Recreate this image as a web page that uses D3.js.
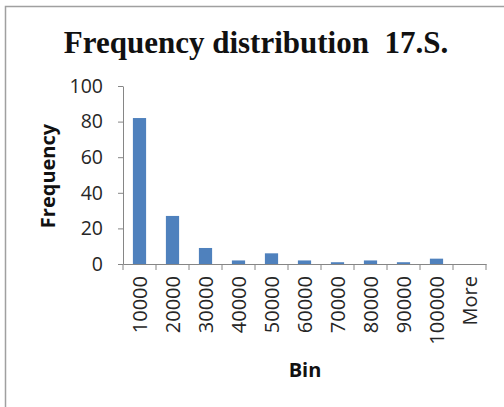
<!DOCTYPE html>
<html><head><meta charset="utf-8">
<script src="https://cdn.jsdelivr.net/npm/d3@7"></script>
<style>body{margin:0;background:#fff}svg{display:block}</style>
</head><body>
<svg id="c" width="504" height="407"></svg>
<script>
const bins = ["10000","20000","30000","40000","50000","60000","70000","80000","90000","100000","More"];
const frequency = [82, 27, 9, 2, 6, 2, 1, 2, 1, 3, 0];
const yTicks = [0, 20, 40, 60, 80, 100];
const title = "Frequency distribution  17.S.";
const xTitle = "Bin", yTitle = "Frequency";

const svg = d3.select("#c");
const m = {left:123, right:486, top:86, bottom:264};
// frame
svg.append("path").attr("d","M5.5,407V6.5H504").attr("fill","none").attr("stroke","#a0a0a0").attr("stroke-width",1.5);

const x = d3.scaleBand().domain(bins).range([m.left, m.right]).paddingInner(0.6).paddingOuter(0.3);
const y = d3.scaleLinear().domain([0,100]).range([m.bottom, m.top]);

svg.append("text").attr("x",256).attr("y",53).attr("text-anchor","middle")
  .style("white-space","pre")
  .attr("font-family","Liberation Serif, Times New Roman, serif").attr("font-weight","bold")
  .attr("font-size",31).attr("fill","#111").text(title);

// bars
svg.append("g").selectAll("rect").data(bins).join("rect")
  .attr("x", d=>x(d)).attr("width", x.bandwidth())
  .attr("y", (d,i)=>y(frequency[i])).attr("height",(d,i)=>y(0)-y(frequency[i]))
  .attr("fill","#4F81BD");

// y axis
const ya = svg.append("g").attr("transform",`translate(${m.left},0)`)
  .call(d3.axisLeft(y).tickValues(yTicks).tickSize(5).tickPadding(15).tickSizeOuter(0));
ya.select(".domain").attr("stroke","#868686");
ya.selectAll(".tick line").attr("stroke","#868686");
ya.selectAll("text").attr("font-family","Open Sans, sans-serif").attr("font-size",19.5).attr("fill","#262626");

// x axis
const xa = svg.append("g").attr("transform",`translate(0,${m.bottom})`)
  .call(d3.axisBottom(x).tickSize(0).tickSizeOuter(0));
xa.select(".domain").attr("stroke","#868686");
const bounds = d3.range(bins.length+1).map(i=>m.left + i*(m.right-m.left)/bins.length);
xa.selectAll(".bnd").data(bounds).join("line").attr("class","bnd")
  .attr("x1",d=>d).attr("x2",d=>d).attr("y1",0).attr("y2",6).attr("stroke","#868686");
xa.selectAll(".tick text")
  .attr("font-family","Open Sans, sans-serif").attr("font-size",20).attr("fill","#262626")
  .attr("text-anchor","end").attr("dy","0.35em")
  .attr("transform","translate(0,12) rotate(-90)").attr("x",0).attr("y",0);

svg.append("text").attr("x",305).attr("y",377).attr("text-anchor","middle")
  .attr("font-family","Open Sans, sans-serif").attr("font-weight","bold").attr("font-size",20)
  .attr("fill","#111").text(xTitle);
svg.append("text").attr("transform","translate(55,176) rotate(-90)").attr("text-anchor","middle")
  .attr("font-family","Open Sans, sans-serif").attr("font-weight","bold").attr("font-size",20)
  .attr("fill","#111").text(yTitle);
</script>
</body></html>
